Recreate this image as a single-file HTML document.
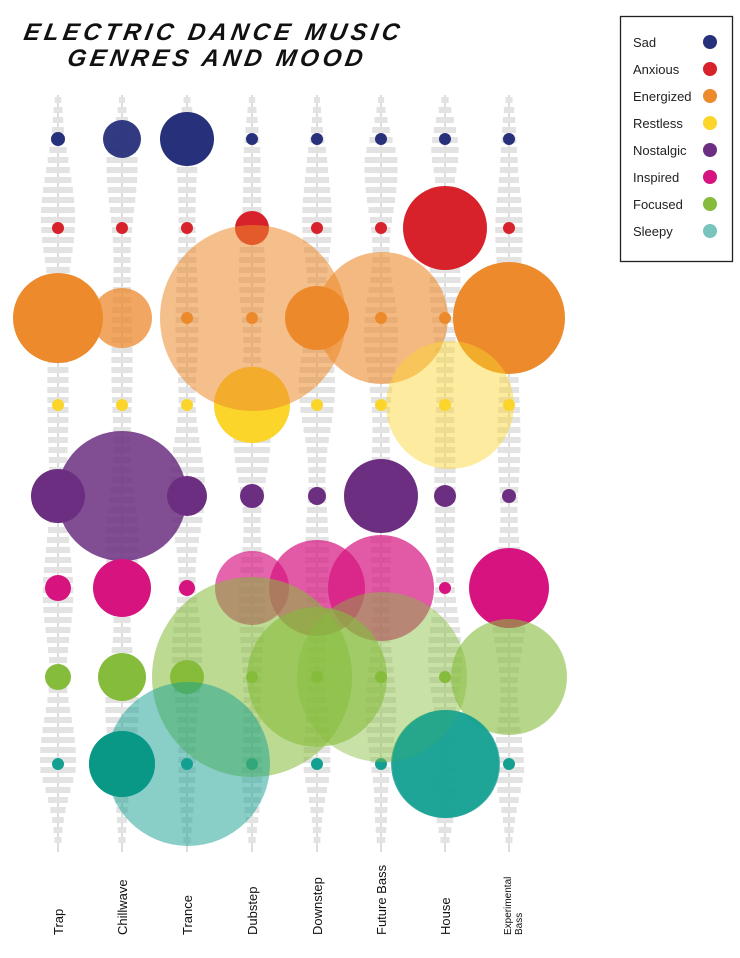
<!DOCTYPE html>
<html><head><meta charset="utf-8"><style>
body{margin:0;background:#fff;}
svg{display:block;font-family:"Liberation Sans",sans-serif;}
</style></head><body>
<svg id="s" width="740" height="958" xmlns="http://www.w3.org/2000/svg">
<g font-style="italic" font-weight="bold" font-size="24" fill="#111" letter-spacing="5" transform="skewX(-10)">
<text x="30" y="40" textLength="380">ELECTRIC DANCE MUSIC</text>
<text x="78" y="66" textLength="300">GENRES AND MOOD</text>
</g>
<g id="bars"></g>
<g id="circ"></g>
<rect x="620.5" y="16.5" width="112" height="245" fill="#fff" stroke="#222" stroke-width="1.3"/>
<g font-size="13" fill="#222">
<text x="633" y="47">Sad</text><circle cx="710" cy="42" r="7" fill="#27307a"/>
<text x="633" y="74">Anxious</text><circle cx="710" cy="69" r="7" fill="#d7222c"/>
<text x="633" y="101">Energized</text><circle cx="710" cy="96" r="7" fill="#ec8a2c"/>
<text x="633" y="128">Restless</text><circle cx="710" cy="123" r="7" fill="#fbd52a"/>
<text x="633" y="155">Nostalgic</text><circle cx="710" cy="150" r="7" fill="#6b2e80"/>
<text x="633" y="182">Inspired</text><circle cx="710" cy="177" r="7" fill="#d6137f"/>
<text x="633" y="209">Focused</text><circle cx="710" cy="204" r="7" fill="#86bc3b"/>
<text x="633" y="236">Sleepy</text><circle cx="710" cy="231" r="7" fill="#7ac4be"/>
</g>
<g font-size="13" fill="#111">
<text transform="translate(63,935) rotate(-90)">Trap</text>
<text transform="translate(127,935) rotate(-90)">Chillwave</text>
<text transform="translate(192,935) rotate(-90)">Trance</text>
<text transform="translate(257,935) rotate(-90)">Dubstep</text>
<text transform="translate(322,935) rotate(-90)">Downstep</text>
<text transform="translate(386,935) rotate(-90)">Future Bass</text>
<text transform="translate(450,935) rotate(-90)">House</text>
<text font-size="10" transform="translate(511,935) rotate(-90)">Experimental</text>
<text font-size="10" transform="translate(522,935) rotate(-90)">Bass</text>
</g>
</svg>
<script>
var X=[58,122,187,252,317,381,445,509],Y=[139,228,318,405,496,588,677,764];
var C=['#27307a','#d7222c','#ec8a2c','#fbd52a','#6b2e80','#d6137f','#86bc3b','#13a091'];
var R=[[7,19,27,6,6,6,6,6],[6,6,6,17,6,6,42,6],[45,30,6,6,32,6,6,56],[6,6,6,38,6,6,6,6],[27,65,20,12,9,37,11,7],[13,29,8,37,48,53,6,40],[13,24,17,6,6,6,6,58],[6,33,6,6,6,6,54,6]];
var O=[[1,.95,1,1,1,1,1,1],[1,1,1,1,1,1,1,1],[1,.75,1,1,1,1,1,1],[1,1,1,1,1,1,1,1],[1,.85,1,1,1,1,1,1],[1,1,1,.65,.7,.7,1,1],[1,1,1,1,1,1,1,.6],[1,1,1,1,1,1,.8,1]];
var ns="http://www.w3.org/2000/svg";
function el(p,t,a){var e=document.createElementNS(ns,t);for(var k in a)e.setAttribute(k,a[k]);p.appendChild(e);return e;}
var b=document.getElementById('bars'),c=document.getElementById('circ');
X.forEach(function(x,i){
 el(b,'line',{x1:x,y1:95,x2:x,y2:852,stroke:'#bbb','stroke-width':1});
 for(var y=100;y<850;y+=10){
  var env=Math.min(1,(y-95)/60,(852-y)/80);
  var w=5+env*(12+20*(0.5+0.5*Math.sin(y*0.035+i*1.7))*(0.6+0.4*Math.sin(y*0.011+i)));
  w=Math.max(4,w);
  el(b,'rect',{x:x-w/2,y:y-3,width:w,height:6,fill:'#e3e3e3'});
 }
});
var big=[[253,318,93,'#ec8a2c',.55],[382,318,66,'#ec8a2c',.6],[450,405,64,'#fbd52a',.45],[252,677,100,'#86bc3b',.55],[317,677,70,'#86bc3b',.6],[382,677,85,'#86bc3b',.45],[188,764,82,'#13a091',.5]];
for(var r=0;r<8;r++)for(var i=0;i<8;i++){
 el(c,'circle',{cx:X[i],cy:Y[r],r:R[r][i],fill:C[r],'fill-opacity':O[r][i]});
}
big.forEach(function(g){el(c,'circle',{cx:g[0],cy:g[1],r:g[2],fill:g[3],'fill-opacity':g[4]});});
el(c,'circle',{cx:122,cy:764,r:33,fill:'#0a9886'});
el(c,'circle',{cx:446,cy:764,r:54,fill:'#13a091','fill-opacity':.75});
</script>
</body></html>
